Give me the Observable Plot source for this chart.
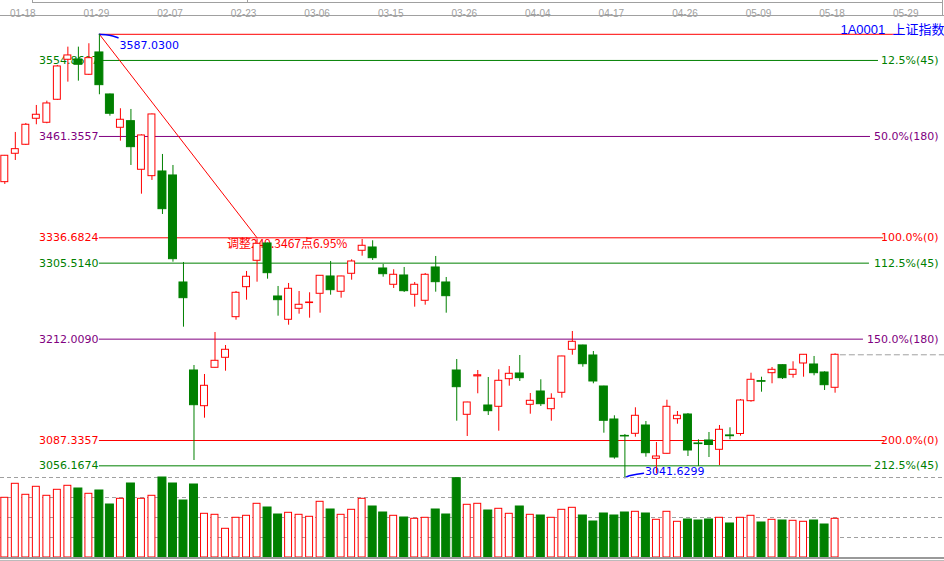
<!DOCTYPE html>
<html><head><meta charset="utf-8">
<script src="https://cdn.jsdelivr.net/npm/d3@7"></script>
<script src="https://cdn.jsdelivr.net/npm/@observablehq/plot@0.6"></script>
<style>
html,body{margin:0;padding:0;background:#fff;}
#wrap{position:relative;width:944px;height:561px;overflow:hidden;background:#fff;}
#wrap svg{position:absolute;left:0;}
.deco{position:absolute;background:#a0a0a0;}
</style></head><body><div id="wrap"></div>
<script>
// ---------------- data ----------------
const tickIdx = [2, 9, 16, 23, 30, 37, 44, 51, 58, 65, 72, 79, 86];
const tickLabels = ["01-18","01-29","02-07","02-23","03-06","03-15","03-26","04-04","04-17","04-26","05-09","05-18","05-29"];

const opens = [3405.13,3440.07,3451.14,3483.13,3478.21,3506.50,3555.71,3556.08,3537.26,3564.70,
3513.02,3472.05,3480.17,3420.38,3412.51,3418.29,3413.37,3281.73,3173.46,3129.54,
3176.78,3189.09,3239.04,3275.94,3308.42,3329.71,3264.50,3235.84,3249.37,3256.40,
3267.82,3289.11,3270.29,3292.43,3320.73,3324.79,3298.95,3278.90,3290.34,3266.59,
3259.21,3300.18,3281.73,3173.46,3118.96,3166.20,3130.40,3128.80,3162.76,3169.77,
3131.26,3147.62,3125.85,3146.03,3198.93,3204.22,3191.92,3153.78,3113.18,3093.00,
3095.58,3105.79,3064.83,3070.98,3113.55,3119.33,3083.70,3087.34,3075.90,3093.60,
3095.34,3135.69,3160.40,3170.14,3179.98,3168.17,3182.07,3180.84,3171.00,3152.18];
const closes = [3437.61,3445.73,3475.75,3488.05,3501.95,3547.47,3561.01,3549.56,3557.68,3524.47,
3489.28,3481.90,3448.19,3462.58,3488.42,3371.91,3310.39,3262.41,3130.77,3154.64,
3185.39,3198.93,3269.06,3288.74,3329.34,3293.17,3259.95,3273.98,3254.29,3257.10,
3289.97,3272.25,3289.11,3307.56,3326.88,3311.62,3291.94,3291.20,3271.02,3278.90,
3291.20,3282.10,3264.87,3152.92,3134.09,3167.60,3123.39,3160.79,3169.40,3163.99,
3136.18,3132.00,3138.64,3190.69,3208.77,3181.21,3159.93,3111.58,3066.42,3092.30,
3117.73,3071.72,3067.66,3128.80,3117.73,3075.04,3082.90,3081.80,3100.50,3092.60,
3136.55,3162.02,3159.60,3174.32,3163.99,3174.32,3192.78,3170.14,3155.38,3192.78];
const highs = [3438.00,3466.27,3477.34,3499.49,3504.78,3548.70,3571.22,3571.22,3575.40,3587.03,
3513.50,3495.43,3494.57,3463.44,3489.00,3439.21,3425.67,3306.33,3179.61,3168.54,
3220.21,3204.22,3270.65,3295.26,3335.00,3330.20,3276.81,3280.50,3270.65,3269.06,
3290.30,3307.56,3289.40,3309.66,3334.63,3333.03,3303.87,3297.35,3300.18,3281.73,
3292.80,3313.72,3287.88,3186.99,3134.40,3173.46,3164.85,3174.32,3178.38,3191.92,
3145.16,3162.02,3144.79,3191.00,3221.44,3204.60,3196.84,3154.10,3117.73,3094.72,
3127.57,3110.72,3084.88,3136.92,3123.02,3120.56,3088.20,3097.18,3105.79,3102.96,
3137.78,3170.14,3165.22,3177.15,3180.30,3184.16,3193.10,3190.69,3171.86,3194.01];
const lows = [3402.30,3431.82,3450.28,3475.75,3476.98,3505.64,3528.16,3529.39,3536.40,3512.65,
3486.33,3455.57,3425.67,3390.36,3407.22,3365.39,3306.70,3226.73,3062.73,3114.78,
3176.50,3172.60,3235.34,3259.95,3282.10,3285.79,3240.27,3229.19,3242.73,3237.81,
3243.96,3266.10,3262.41,3284.56,3314.08,3308.79,3288.25,3274.35,3269.42,3251.34,
3253.80,3269.79,3243.96,3111.08,3092.26,3144.79,3118.10,3098.78,3154.15,3159.93,
3119.70,3129.17,3111.08,3139.38,3192.28,3177.52,3157.10,3096.32,3064.33,3041.63,
3091.40,3066.79,3046.37,3070.60,3107.39,3067.66,3055.35,3066.42,3056.58,3088.20,
3092.63,3134.46,3146.76,3157.10,3162.39,3163.99,3165.22,3166.94,3148.86,3145.53];
const volumes = [298.5,368.5,313.5,353.5,308.5,338.5,358.5,345,318.5,335,
265,293.5,370,293.5,308.5,400,370,285,365,218.5,
213.5,143.5,198.5,208.5,268.5,250,215,223.5,213.5,203.5,
278.5,240,213.5,238.5,293.5,255,225,208.5,200,193.5,
198.5,240,215,396.5,263.5,268.5,235,243.5,218.5,255,
213.5,210,198.5,238.5,248.5,210,180,220,210,225,
228.5,220,188.5,228.5,178.5,190,185,190,198.5,170,
198.5,208.5,175,188.5,185,183.5,178.5,185,165,193.5];
const volumeGrid = [100, 200, 300, 400];

// golden-section levels
const levelPrices = [3587.03, 3554.8607, 3461.3557, 3336.6824, 3305.5140, 3212.0090, 3087.3357, 3056.1674];
const levelLeftLabels = ["", "3554.8607", "3461.3557", "3336.6824", "3305.5140", "3212.0090", "3087.3357", "3056.1674"];
const levelRightLabels = ["", "12.5%(45)", "50.0%(180)", "100.0%(0)", "112.5%(45)", "150.0%(180)", "200.0%(0)", "212.5%(45)"];
const peakIndex = 9, peakPrice = 3587.03, peakLabel = "3587.0300";
const lowIndex = 59, lowPrice = 3041.63, lowLabel = "3041.6299";
const swingEndIndex = 24, swingEndPrice = 3336.6824;
const swingLabel = "调整249.3467点6.95%";
const title = "1A0001  上证指数";

// ---------------- style / layout ----------------
const RED = "#ff0000", GREEN = "#008000", PURPLE = "#800080", BLUE = "#0000ff", GRAY = "#a0a0a0";
const levelColors = [RED, GREEN, PURPLE, RED, GREEN, PURPLE, RED, GREEN];
const levelEnds = [85.41, 83.13, 82.37, 83.6, 82.27, 81.7, 83.7, 82.46];
const xDomain = [-0.41, 89.41];
const LBL = "'DejaVu Sans', Verdana, sans-serif";
const CJK = "'Liberation Sans', 'Noto Sans CJK SC', sans-serif";

const candles = opens.map((o, i) => ({i, o, c: closes[i], h: highs[i], l: lows[i], v: volumes[i], up: closes[i] >= o}));
const levels = levelPrices.map((p, k) => ({p, left: levelLeftLabels[k], right: levelRightLabels[k], color: levelColors[k], end: levelEnds[k]}));
const ticks = tickIdx.map((i, k) => ({i, label: tickLabels[k]}));

const peakConn = [{x: peakIndex, y: peakPrice}, {x: peakIndex + 0.98, y: peakPrice - 0.6}, {x: peakIndex + 1.77, y: peakPrice - 4.3}];
const lowConn = [{x: lowIndex, y: lowPrice}, {x: lowIndex + 0.37, y: lowPrice + 2.6}, {x: lowIndex + 1.0, y: lowPrice + 3.9}, {x: lowIndex + 1.77, y: lowPrice + 5.5}];

const wrap = document.getElementById("wrap");

const price = Plot.plot({
  width: 944, height: 480,
  marginTop: 0, marginBottom: 0, marginLeft: 0, marginRight: 0,
  x: {domain: xDomain, axis: null},
  y: {domain: [3038.13, 3628.61], axis: null},
  color: {type: "identity"},
  style: {background: "transparent"},
  marks: [
    Plot.ruleY(levels, {y: "p", x1: peakIndex, x2: "end", stroke: "color", strokeWidth: 1}),
    Plot.link([0], {x1: peakIndex, y1: peakPrice, x2: swingEndIndex, y2: swingEndPrice, stroke: RED, strokeWidth: 1}),
    Plot.ruleY([closes[closes.length - 1]], {x1: closes.length - 0.5, x2: xDomain[1], stroke: GRAY, strokeDasharray: "6,3"}),
    Plot.text(levels.filter(d => d.left), {x: peakIndex, y: "p", text: "left", textAnchor: "end", dx: -1, fill: "color", fontSize: 11, fontFamily: LBL}),
    Plot.text(levels.filter(d => d.right), {y: "p", text: "right", frameAnchor: "right", textAnchor: "end", dx: -6, fill: "color", fontSize: 11, fontFamily: LBL}),
    Plot.line(peakConn, {x: "x", y: "y", stroke: BLUE, curve: "basis"}),
    Plot.line(lowConn, {x: "x", y: "y", stroke: BLUE, curve: "basis"}),
    Plot.text([peakLabel], {x: peakIndex, y: peakPrice, text: d => d, dx: 20, dy: 11, textAnchor: "start", fill: BLUE, fontSize: 11, fontFamily: LBL}),
    Plot.text([lowLabel], {x: lowIndex, y: lowPrice, text: d => d, dx: 20, dy: -6, textAnchor: "start", fill: BLUE, fontSize: 11, fontFamily: LBL}),
    Plot.text([swingLabel], {x: swingEndIndex, y: swingEndPrice, text: d => d, dx: -30, dy: 6.5, textAnchor: "start", fill: RED, fontSize: 12, fontFamily: "'Noto Sans CJK SC', sans-serif"}),
    Plot.ruleX(candles, {x: "i", y1: "l", y2: "h", stroke: d => d.up ? RED : GREEN, strokeWidth: 1}),
    Plot.rect(candles.filter(d => d.up), {x1: d => d.i - 0.33, x2: d => d.i + 0.33, y1: "o", y2: "c", fill: "white", stroke: RED, strokeWidth: 1}),
    Plot.rect(candles.filter(d => !d.up), {x1: d => d.i - 0.38, x2: d => d.i + 0.38, y1: "o", y2: "c", fill: GREEN, stroke: GREEN, strokeWidth: 1}),
    Plot.text(ticks, {x: "i", text: "label", frameAnchor: "top", dy: 9, dx: -3, fill: GRAY, fontSize: 10, fontFamily: "'Liberation Sans Narrow', 'Liberation Sans', sans-serif"}),
    Plot.text([title], {frameAnchor: "top-right", text: d => d, dy: 24, textAnchor: "end", fill: BLUE, fontSize: 13, fontFamily: CJK})
  ]
});
price.style.top = "0px";
wrap.appendChild(price);

const vol = Plot.plot({
  width: 944, height: 91,
  marginTop: 7, marginBottom: 4, marginLeft: 0, marginRight: 0,
  x: {domain: xDomain, axis: null},
  y: {domain: [0, 400], axis: null},
  color: {type: "identity"},
  style: {background: "transparent"},
  marks: [
    Plot.ruleY(volumeGrid, {stroke: GRAY, strokeDasharray: "4,3"}),
    Plot.rect(candles.filter(d => d.up), {x1: d => d.i - 0.33, x2: d => d.i + 0.33, y1: 0, y2: "v", fill: "white", stroke: RED, strokeWidth: 1}),
    Plot.rect(candles.filter(d => !d.up), {x1: d => d.i - 0.38, x2: d => d.i + 0.38, y1: 0, y2: "v", fill: GREEN, stroke: GREEN, strokeWidth: 1})
  ]
});
vol.style.top = "470px";
wrap.appendChild(vol);

// frame decorations
function deco(l, t, w, h, c) {
  const d = document.createElement("div");
  d.className = "deco";
  Object.assign(d.style, {left: l + "px", top: t + "px", width: w + "px", height: h + "px"});
  if (c) d.style.background = c;
  wrap.appendChild(d);
}
deco(0, 15, 944, 1);
deco(32, 2, 910, 1);
deco(32, 0, 1, 2);
deco(247, 0, 1, 2);
deco(942, 0, 1, 15);
deco(0, 557, 944, 2, "#999");
deco(0, 560, 944, 1, "#bbb");
</script>
</body></html>
